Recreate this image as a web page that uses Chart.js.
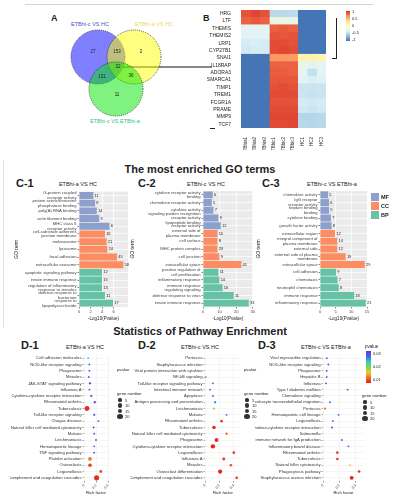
<!DOCTYPE html>
<html lang="en">
<head>
<meta charset="UTF-8" />
<title>DEG overlap, GO and pathway enrichment</title>
<script src="https://cdn.jsdelivr.net/npm/chart.js@4"></script>
<style>
  body { margin: 0; background: #fff; font-family: "Liberation Sans", Arial, sans-serif; }
  #fig { position: relative; width: 397px; height: 500px; overflow: hidden; }
  #fig canvas, .t, .b { position: absolute; }
  .t { white-space: nowrap; line-height: 1; color: #222; }
</style>
</head>
<body>
<div id="fig"></div>
<script>
// ---- A: Venn of the three comparisons ----
const vennSets = ['ETBhi-c VS HC', 'ETBhi-a VS HC', 'ETBhi-c VS ETBhi-a'];
const vennX = [48, 84, 66];
const vennY = [42, 42, 74];
const vennR = [27, 27, 27];
const vennFill = ['rgba(0,0,255,0.5)', 'rgba(255,255,0,0.5)', 'rgba(0,230,0,0.5)'];
const vennCounts = ['27', '153', '2', '32', '131', '36', '11'];
const vennCountX = [43, 67, 91, 68, 52, 81, 67];
const vennCountY = [37, 37, 37, 52, 62, 61, 80];
const linkX = [73, 162];
const linkY = [52, 52];

// ---- B: heatmap of shared genes ----
const heatGenes = ['HRG', 'LTF', 'THEMIS', 'THEMIS2', 'LRP1', 'CYP27B1', 'SNAI1', 'IL18RAP',
  'ADORA3', 'SMARCA1', 'TIMP1', 'TREM1', 'FCGR1A', 'PRAME', 'MMP9', 'TCF7'];
const heatSamples = ['ETBhia1', 'ETBhia2', 'ETBhia3', 'ETBhic1', 'ETBhic2', 'ETBhic3', 'HC1', 'HC2', 'HC3'];
const heatZ = [
  [0.88, 0.92, 0.88, -0.5, -0.5, -0.48, -1, -1, -1],
  [0.82, 0.85, 0.82, -0.22, -0.22, -0.25, -1, -1, -1],
  [-0.3, -0.3, -0.28, 0.82, 0.85, 0.82, -1, -1, -1],
  [-0.32, -0.33, -0.3, 0.88, 0.86, 0.88, -1, -1, -1],
  [-0.38, -0.36, -0.38, 0.9, 0.9, 0.88, -1, -1, -1],
  [-0.4, -0.38, -0.38, 0.9, 0.92, 0.9, -1, -1, -1],
  [-1, -1, -1, 0.62, 0.62, 0.6, 0.12, 0.12, 0.1],
  [-1, -1, -1, 0.82, 0.82, 0.82, -0.25, -0.3, -0.28],
  [-1, -1, -1, 0.84, 0.84, 0.82, -0.3, -0.45, -0.3],
  [-1, -1, -1, 0.86, 0.86, 0.86, -0.32, -0.36, -0.34],
  [-1, -1, -1, 0.88, 0.9, 0.88, -0.42, -0.42, -0.42],
  [-1, -1, -1, 0.9, 0.9, 0.9, -0.42, -0.44, -0.42],
  [-1, -1, -1, 0.88, 0.88, 0.88, -0.38, -0.4, -0.38],
  [-1, -1, -1, 0.9, 0.9, 0.9, -0.4, -0.42, -0.4],
  [-1, -1, -1, 0.92, 0.92, 0.92, -0.52, -0.52, -0.5],
  [-1, -1, -1, 0.9, 0.9, 0.92, -0.5, -0.52, -0.5]
];
const heatTicks = ['1', '0.5', '0', '-0.5', '-1'];

// ---- C: GO terms ----
const goTypes = ['MF', 'MF', 'MF', 'MF', 'MF', 'CC', 'CC', 'CC', 'CC', 'CC', 'BP', 'BP', 'BP', 'BP', 'BP'];
const goColors = { MF: '#8da0cb', CC: '#fc8d62', BP: '#66c2a5' };
const c1Terms = [['G-protein coupled', 'receptor activity'], ['protein serine/threonine', 'phosphatase binding'],
  'poly(A) RNA binding', 'actin filament binding', ['MHC class II', 'receptor activity'],
  ['cell-substrate adherens', 'junction membrane'], 'melanosome', 'lysosome', 'focal adhesion',
  'extracellular exosome', 'apoptotic signaling pathway', 'innate immune response',
  ['regulation of inflammatory', 'response to stimulus'], ['defense response to', 'bacterium'],
  ['response to', 'lipopolysaccharide']];
const c1Values = [2.5, 2.8, 3.1, 3.5, 5.3, 4.5, 4.8, 4.9, 6.6, 7.7, 4.0, 4.0, 4.0, 4.5, 5.9];
const c1Counts = ['11', '8', '14', '9', '6', '16', '21', '24', '45', '58', '12', '15', '13', '11', '17'];
const c2Terms = [['cytokine receptor activity', 'binding'], 'chemokine receptor activity', 'cytokine activity',
  ['signaling pattern recognition', 'receptor activity', 'lipopeptide binding'], 'receptor activity',
  ['external side of', 'plasma membrane'], 'cell surface', 'MHC protein complex', 'cell junction',
  'extracellular space', ['positive regulation of', 'cell proliferation'], 'inflammatory response',
  ['immune response', 'regulating signaling'], 'defense response to virus', 'innate immune response'];
const c2Values = [5.9, 5.3, 6.3, 9.3, 10.7, 8.7, 8.7, 8.7, 9.9, 23.1, 9.3, 9.9, 11.8, 18.5, 27.6];
const c2Counts = ['6', '5', '7', '9', '12', '10', '8', '23', '9', '41', '11', '14', '16', '11', '33'];
const c3Terms = ['chemokine activity', ['IgG receptor', 'receptor activity'], ['heparin binding', 'binding'],
  'cytokine binding', 'growth factor activity', 'extracellular region',
  ['integral component of', 'plasma membrane'], 'external side', ['external side of plasma', 'membrane'],
  'extracellular space', 'cell adhesion', 'chemotaxis', 'neutrophil chemotaxis',
  'immune response', 'inflammatory response'];
const c3Values = [2.6, 2.9, 2.9, 3.5, 3.7, 4.8, 5.5, 5.5, 8.2, 14.3, 5.1, 5.6, 6.0, 10.9, 14.6];
const c3Counts = ['5', '6', '5', '7', '8', '12', '14', '12', '19', '29', '9', '7', '8', '18', '21'];

// ---- D: pathway enrichment ----
const d1Paths = ['Cell adhesion molecules', 'NOD-like receptor signaling', 'Phagosome', 'Measles',
  'JAK-STAT signaling pathway', 'Influenza A', 'Cytokine-cytokine receptor interaction',
  'Rheumatoid arthritis', 'Tuberculosis', 'Toll-like receptor signaling', 'Chagas disease',
  'Natural killer cell mediated cytotoxicity', 'Malaria', 'Leishmaniasis', 'Hematopoietic lineage',
  'TNF signaling pathway', 'Platelet activation', 'Osteoclasts', 'Legionellosis',
  'Complement and coagulation cascades'];
const d1Rich = [0.07, 0.09, 0.09, 0.08, 0.10, 0.09, 0.12, 0.18, 0.05, 0.17, 0.24, 0.16, 0.17, 0.20, 0.17, 0.17, 0.10, 0.10, 0.28, 0.21];
const d1Genes = [1, 1, 1, 1, 2, 1, 2, 2, 16, 2, 1, 1, 1, 1, 1, 1, 8, 7, 4, 18];
const d1P = [0.02, 0.03, 0.03, 0.03, 0.038, 0.03, 0.03, 0.035, 0.001, 0.03, 0.03, 0.035, 0.03, 0.035, 0.03, 0.035, 0.006, 0.002, 0.003, 0.001];
const d2Paths = ['Pertussis', 'Staphylococcus infection', 'Viral protein interaction with cytokine',
  'NF-kB signaling', 'Toll-like receptor signaling pathway', 'Intestinal immune network', 'Apoptosis',
  'Antigen processing and presentation', 'Leishmaniasis', 'Malaria', 'Rheumatoid arthritis',
  'Tuberculosis', 'Natural killer cell mediated cytotoxicity', 'Phagosome',
  'Cytokine-cytokine receptor interaction', 'Legionellosis', 'Influenza A', 'Measles',
  'Osteoclast differentiation', 'Complement and coagulation cascades'];
const d2Rich = [0.30, 0.28, 0.33, 0.01, 0.11, 0.07, 0.11, 0.14, 0.125, 0.30, 0.23, 0.125, 0.30, 0.16, 0.11, 0.40, 0.26, 0.36, 0.21, 0.44];
const d2Genes = [0, 0, 0, 2, 1, 1, 1, 2, 2, 1, 3, 7, 2, 9, 12, 3, 4, 3, 11, 3];
const d2P = [0.04, 0.04, 0.04, 0.016, 0.03, 0.03, 0.03, 0.025, 0.012, 0.03, 0.002, 0.001, 0.004, 0.001, 0.0005, 0.002, 0.002, 0.003, 0.0005, 0.002];
const d3Paths = ['Viral myocarditis regulation', 'NOD-like receptor signaling', 'Phagosome', 'Hepatitis B',
  'Influenza', 'Type I diabetes mellitus', 'Chemokine signaling', 'Leukocyte transendothelial migration',
  'Pertussis', 'Hematopoietic cell lineage', 'Legionellosis', 'Cytokine-cytokine receptor interaction',
  'Salmonella', 'Intestinal immune network for IgA production', 'Inflammatory bowel disease',
  'Rheumatoid arthritis', 'Tuberculosis', 'Natural killer cytotoxicity', 'Phagocytosis pathway',
  'Staphylococcus aureus infection'];
const d3Rich = [0.045, 0.065, 0.045, 0.045, 0.037, 0.30, 0.04, 0.085, 0.025, 0.19, 0.12, 0.11, 0.05, 0.23, 0.31, 0.175, 0.175, 0.33, 0.44, 0.35];
const d3Genes = [1, 1, 1, 1, 1, 1, 0, 1, 2, 1, 1, 1, 0, 1, 1, 3, 3, 1, 3, 9];
const d3P = [0.03, 0.035, 0.03, 0.03, 0.035, 0.03, 0.04, 0.03, 0.005, 0.03, 0.03, 0.035, 0.04, 0.03, 0.03, 0.002, 0.002, 0.01, 0.001, 0.0005];
const geneLegend = [5, 10, 15, 20];
const pLegend = ['0.03', '0.02', '0.01'];

Chart.defaults.font.family = '"Liberation Sans", Arial, sans-serif';
Chart.defaults.color = '#333';
Chart.defaults.animation = false;
Chart.defaults.responsive = false;
Chart.defaults.layout.autoPadding = false;
Chart.defaults.plugins.legend.display = false;
Chart.defaults.plugins.tooltip.enabled = false;

const fig = document.getElementById('fig');

function mkCanvas(x, y, w, h) {
  const c = document.createElement('canvas');
  c.width = w; c.height = h;
  c.style.left = x + 'px'; c.style.top = y + 'px';
  c.style.width = w + 'px'; c.style.height = h + 'px';
  fig.appendChild(c);
  return c;
}

function txt(s, x, y, size, o = {}) {
  const d = document.createElement('div');
  d.className = 't';
  d.textContent = s;
  d.style.left = x + 'px'; d.style.top = y + 'px'; d.style.fontSize = size + 'px';
  if (o.bold) d.style.fontWeight = 'bold';
  if (o.color) d.style.color = o.color;
  if (o.center) d.style.transform = 'translateX(-50%)';
  fig.appendChild(d);
}

function box(x, y, w, h, bg, extra) {
  const d = document.createElement('div');
  d.className = 'b';
  d.style.left = x + 'px'; d.style.top = y + 'px';
  d.style.width = w + 'px'; d.style.height = h + 'px';
  d.style.background = bg;
  if (extra) d.style.borderRadius = extra;
  fig.appendChild(d);
}

function lerpStops(stops, v) {
  if (v <= stops[0][0]) return stops[0][1];
  for (let i = 1; i < stops.length; i++) {
    if (v <= stops[i][0]) {
      const t = (v - stops[i - 1][0]) / (stops[i][0] - stops[i - 1][0]);
      const a = stops[i - 1][1], b = stops[i][1];
      return a.map((c, k) => Math.round(c + (b[k] - c) * t));
    }
  }
  return stops[stops.length - 1][1];
}
const rdylbu = [[-1, [69, 117, 180]], [-0.667, [145, 191, 219]], [-0.333, [224, 243, 248]],
  [0, [255, 255, 191]], [0.333, [254, 224, 144]], [0.667, [252, 141, 89]], [1, [215, 48, 39]]];
const heatColor = v => 'rgb(' + lerpStops(rdylbu, v).join(',') + ')';
const rainbow = [[0, [222, 32, 26]], [0.005, [240, 110, 40]], [0.01, [240, 200, 40]], [0.015, [110, 220, 70]],
  [0.02, [50, 200, 210]], [0.03, [70, 100, 230]], [0.04, [125, 45, 210]]];
const pColor = p => 'rgb(' + lerpStops(rainbow, p).join(',') + ')';
const geneRadius = n => 0.45 + 0.5 * Math.sqrt(n);

// draws text next to each point/bar of datasets that carry a "texts" list
const textMarks = {
  id: 'textMarks',
  afterDatasetsDraw(chart) {
    const ctx = chart.ctx;
    chart.data.datasets.forEach((ds, di) => {
      if (!ds.texts) return;
      const meta = chart.getDatasetMeta(di);
      ctx.save();
      ctx.font = ds.textFont || '5px "Liberation Sans"';
      ctx.fillStyle = '#222';
      ctx.textAlign = ds.textAlign || 'center';
      ctx.textBaseline = 'middle';
      meta.data.forEach((el, i) => ctx.fillText(ds.texts[i], el.x + (ds.textDx || 0), el.y));
      ctx.restore();
    });
  }
};

// dotted outline for the Venn circles (first dataset only)
const dottedFirst = {
  id: 'dottedFirst',
  beforeDatasetDraw(chart, args) { if (args.index === 0) chart.ctx.setLineDash([1, 1]); },
  afterDatasetDraw(chart, args) { if (args.index === 0) chart.ctx.setLineDash([]); }
};

// ggplot-like grey panel
const panelBg = {
  id: 'panelBg',
  beforeDraw(chart, args, opts) {
    const a = chart.chartArea, ctx = chart.ctx;
    ctx.save();
    ctx.fillStyle = opts.color || '#ebebeb';
    ctx.fillRect(a.left, a.top, a.right - a.left, a.bottom - a.top);
    ctx.restore();
  }
};

// ---------- frame, titles ----------
box(25, 4, 348, 1, '#d4d4d4');
box(3, 160, 1, 168, '#e2e2e2');
txt('A', 51, 14, 9, { bold: true });
txt('B', 203, 14, 9, { bold: true });
txt('The most enriched GO terms', 200, 164, 11, { bold: true, center: true });
txt('C-1', 16, 178, 11, { bold: true });
txt('C-2', 138, 178, 11, { bold: true });
txt('C-3', 262, 178, 11, { bold: true });
txt('ETBhi-a VS HC', 78, 182, 5.5, { center: true });
txt('ETBhi-c VS HC', 206, 182, 5.5, { center: true });
txt('ETBhi-c VS ETBhi-a', 332, 182, 5.5, { center: true });
txt('Statistics of Pathway Enrichment', 200, 326, 11, { bold: true, center: true });
txt('D-1', 21, 340, 11, { bold: true });
txt('D-2', 138, 340, 11, { bold: true });
txt('D-3', 258, 340, 11, { bold: true });
txt('ETBhi-a VS HC', 85, 345, 5.5, { center: true });
txt('ETBhi-c VS HC', 200, 345, 5.5, { center: true });
txt('ETBhi-c VS ETBhi-a', 326, 345, 5.5, { center: true });

// ---------- A ----------
txt(vennSets[0], 90, 22, 5.5, { center: true, color: '#4656c8' });
txt(vennSets[1], 154, 22, 5.5, { center: true, color: '#e6dc5a' });
txt(vennSets[2], 115, 119, 5.5, { center: true, color: '#35c28c' });
new Chart(mkCanvas(50, 15, 162, 115), {
  type: 'bubble',
  data: {
    datasets: [
      { data: vennX.map((x, i) => ({ x, y: vennY[i], r: vennR[i] })), backgroundColor: vennFill,
        borderColor: 'rgba(20,20,20,0.85)', borderWidth: 0.8 },
      { type: 'line', data: linkX.map((x, i) => ({ x, y: linkY[i] })), borderColor: '#111', borderWidth: 1, pointRadius: 0 },
      { type: 'scatter', data: vennCountX.map((x, i) => ({ x, y: vennCountY[i] })), pointRadius: 0,
        texts: vennCounts, textFont: '4.5px "Liberation Sans"' }
    ]
  },
  options: {
    layout: { padding: 0 },
    scales: {
      x: { type: 'linear', min: 0, max: 162, display: false },
      y: { type: 'linear', min: 0, max: 115, reverse: true, display: false }
    }
  },
  plugins: [dottedFirst, textMarks]
});

// ---------- B ----------
new Chart(mkCanvas(200, 5, 135, 145), {
  type: 'bar',
  data: {
    labels: heatGenes,
    datasets: heatSamples.map((s, j) => ({
      label: s, data: heatGenes.map(() => 1),
      backgroundColor: heatZ.map(row => heatColor(row[j])),
      borderWidth: 0, barPercentage: 1, categoryPercentage: 1
    }))
  },
  options: {
    indexAxis: 'y',
    layout: { padding: { top: 5, right: 9 } },
    scales: {
      x: {
        type: 'linear', stacked: true, min: 0, max: 9,
        grid: { display: false }, border: { display: false },
        afterBuildTicks: s => { s.ticks = heatSamples.map((_, i) => ({ value: i + 0.5 })); },
        afterFit: s => { s.height = 22; },
        ticks: { autoSkip: false, minRotation: 90, maxRotation: 90, padding: 1, color: '#333',
          font: { size: 4.5 }, callback: (v, i) => heatSamples[i] }
      },
      y: {
        stacked: true, grid: { display: false }, border: { display: false },
        afterFit: s => { s.width = 41; },
        ticks: { autoSkip: false, padding: 2, color: '#222', font: { size: 5 } }
      }
    }
  }
});
box(336, 18, 0.8, 41, '#222');
box(332, 58, 4, 0.8, '#222');
box(210, 128, 5, 0.8, '#222');
box(346, 11, 4, 30, 'linear-gradient(to bottom,#d73027,#fc8d59,#fee090,#ffffbf,#e0f3f8,#91bfdb,#4575b4)');
heatTicks.forEach((t, i) => txt(t, 352, 10 + i * 7, 4));

// ---------- C ----------
function goChart(cv, terms, vals, counts, xMax, step, yW, padR) {
  return new Chart(cv, {
    type: 'bar',
    data: {
      labels: terms,
      datasets: [{ data: vals, backgroundColor: goTypes.map(t => goColors[t]), barPercentage: 0.9,
        categoryPercentage: 1, texts: counts, textDx: 1.2, textAlign: 'left', textFont: '4px "Liberation Sans"' }]
    },
    options: {
      indexAxis: 'y',
      layout: { padding: { top: 5, right: padR } },
      scales: {
        x: {
          min: 0, max: xMax,
          afterBuildTicks: s => { s.ticks = s.ticks.filter(t => Math.abs(t.value / step - Math.round(t.value / step)) < 1e-6); },
          ticks: { stepSize: step, font: { size: 4 }, padding: 1, color: '#444' },
          grid: { color: '#fff', lineWidth: 0.7, tickLength: 1.5, tickColor: '#555' },
          border: { display: false },
          title: { display: true, text: '-Log10(Pvalue)', font: { size: 4.5 }, padding: 0, color: '#222' },
          afterFit: s => { s.height = 14; }
        },
        y: {
          grid: { color: '#fff', lineWidth: 0.7, offset: false, tickLength: 1.5, tickColor: '#555' },
          border: { display: false },
          ticks: { autoSkip: false, padding: 1, color: '#444', font: { size: 4.2, lineHeight: 1.1 } },
          title: { display: true, text: 'GO term', font: { size: 5 }, padding: 0, color: '#222' },
          afterFit: s => { s.width = yW; }
        }
      }
    },
    plugins: [panelBg, textMarks]
  });
}
goChart(mkCanvas(14, 186, 118, 135), c1Terms, c1Values, c1Counts, 8.5, 2, 65, 4);
goChart(mkCanvas(130, 186, 126, 135), c2Terms, c2Values, c2Counts, 30, 10, 73, 3);
goChart(mkCanvas(256, 186, 115, 135), c3Terms, c3Values, c3Counts, 15, 5, 64, 4);
['MF', 'CC', 'BP'].forEach((k, i) => {
  box(371, 193 + i * 9, 8, 8, goColors[k]);
  txt(k, 381, 195 + i * 9, 5.5, { bold: true });
});

// ---------- D ----------
function pathChart(cv, paths, rich, genes, pvals, xMax, yW, padR) {
  return new Chart(cv, {
    type: 'bubble',
    data: {
      datasets: [{
        data: paths.map((p, i) => ({ x: rich[i], y: p, r: genes[i] ? geneRadius(genes[i]) : 0 })),
        backgroundColor: pvals.map(pColor), borderWidth: 0
      }]
    },
    options: {
      layout: { padding: { top: 10, right: padR } },
      scales: {
        x: {
          type: 'linear', min: 0, max: xMax,
          ticks: { stepSize: 0.1, font: { size: 3.6 }, padding: 1, color: '#444' },
          grid: { color: '#eeeeee', lineWidth: 0.6, tickLength: 1.5, tickColor: '#555' },
          border: { display: false },
          title: { display: true, text: 'Rich factor', font: { size: 4.2 }, padding: 0, color: '#222' },
          afterFit: s => { s.height = 14; }
        },
        y: {
          type: 'category', labels: paths, offset: true,
          grid: { color: '#f0f0f0', lineWidth: 0.6, tickLength: 1.5, tickColor: '#777' },
          border: { display: false },
          ticks: { autoSkip: false, padding: 1, color: '#333', font: { size: 4.2 } },
          afterFit: s => { s.width = yW; }
        }
      }
    }
  });
}
pathChart(mkCanvas(10, 345, 105, 150), d1Paths, d1Rich, d1Genes, d1P, 0.4, 74, 7);
pathChart(mkCanvas(130, 345, 113, 150), d2Paths, d2Rich, d2Genes, d2P, 0.5, 75, 2);
pathChart(mkCanvas(255, 345, 112, 150), d3Paths, d3Rich, d3Genes, d3P, 0.5, 68, 3);

// legends of the dot plots
function geneKey(x, y) {
  txt('gene number', x, y, 4.2);
  geneLegend.forEach((n, i) => {
    const r = geneRadius(n);
    box(x + 3 - r, y + 8 + i * 5.5 - r, 2 * r, 2 * r, '#333', '50%');
    txt(String(n), x + 8, y + 6.5 + i * 5.5, 4);
  });
}
txt('pvalue', 117, 368, 4.2);
txt('pvalue', 244, 368, 4.2);
geneKey(117, 392);
geneKey(244, 392);
geneKey(362, 394);
txt('pvalue', 365, 345, 4.5);
box(366, 351, 5, 32, 'linear-gradient(to bottom,#7d2dd2,#4664e6,#32c8d2,#6edc46,#f0c828,#f06e28,#de201a)');
pLegend.forEach((t, i) => txt(t, 373, 352 + i * 13, 4));
</script>
</body>
</html>
